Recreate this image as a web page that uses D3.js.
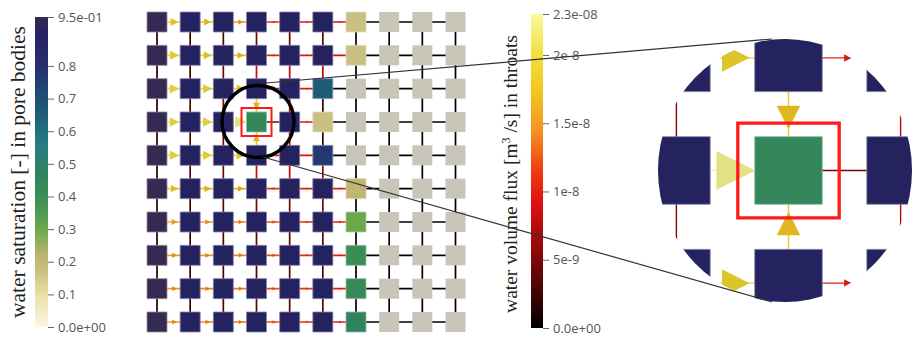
<!DOCTYPE html>
<html><head><meta charset="utf-8">
<script src="https://cdn.jsdelivr.net/npm/d3@7"></script>
<style>body{margin:0;background:#fff;} svg{display:block;}</style>
</head><body>
<svg id="c" width="914" height="337"></svg>
<script>
// ---------------- DATA ----------------
const satTicks = [0.95, 0.8, 0.7, 0.6, 0.5, 0.4, 0.3, 0.2, 0.1, 0];
const satTickLabels = ["9.5e-01","0.8","0.7","0.6","0.5","0.4","0.3","0.2","0.1","0.0e+00"];
const fluxTicks = [2.3e-8, 2e-8, 1.5e-8, 1e-8, 5e-9, 0];
const fluxTickLabels = ["2.3e-08","2e-8","1.5e-8","1e-8","5e-9","0.0e+00"];

// colour maps (colour stops)
const satStops  = [0, 0.1, 0.17, 0.22, 0.3, 0.4, 0.47, 0.55, 0.65, 0.75, 0.82, 0.9, 0.95];
const satColors = ["#fbf5e4","#e9e0a8","#c9c083","#bdb56c","#6aa84e","#3a8e55","#2f815e","#26807f","#1f5e78","#203f72","#262d6a","#252260","#352a52"];
const fluxStops  = [0, 0.46e-8, 0.92e-8, 1.15e-8, 1.43e-8, 1.72e-8, 2.0e-8, 2.3e-8];
const fluxColors = ["#000000","#760606","#e01010","#ee3c10","#f39020","#f2c420","#f0e038","#fafaa0"];

// water saturation in pore bodies, 10 rows x 10 columns (null = empty pore)
const saturation = [
  [0.95,0.9,0.9,0.9,0.9,0.9,0.17,null,null,null],
  [0.95,0.9,0.9,0.9,0.9,0.9,0.17,null,null,null],
  [0.95,0.9,0.9,0.9,0.9,0.66,null,null,null,null],
  [0.95,0.9,0.9,0.44,0.9,0.17,null,null,null,null],
  [0.95,0.9,0.9,0.9,0.9,0.77,null,null,null,null],
  [0.95,0.9,0.9,0.9,0.9,0.9,0.21,null,null,null],
  [0.95,0.9,0.9,0.9,0.9,0.9,0.3,null,null,null],
  [0.95,0.9,0.9,0.9,0.9,0.9,0.4,null,null,null],
  [0.95,0.9,0.9,0.9,0.9,0.9,0.42,null,null,null],
  [0.95,0.9,0.9,0.9,0.9,0.9,0.46,null,null,null]
];
// flux in horizontal throats (column i -> i+1), m3/s, negative = towards left
const horizontalFlux = [
  [1.9e-8,1.75e-8,1.5e-8,1.05e-8,0.95e-8,0.9e-8,0,0,0],
  [2.0e-8,1.85e-8,1.7e-8,1.0e-8,0.95e-8,0.9e-8,0,0,0],
  [2.05e-8,2.0e-8,1.9e-8,1.0e-8,0.95e-8,0,0,0,0],
  [2.05e-8,2.05e-8,2.25e-8,-0.45e-8,0.95e-8,0,0,0,0],
  [2.05e-8,2.0e-8,1.9e-8,1.0e-8,0.95e-8,0,0,0,0],
  [1.8e-8,1.7e-8,1.6e-8,1.1e-8,1.0e-8,1.0e-8,0,0,0],
  [1.6e-8,1.5e-8,1.4e-8,1.2e-8,1.05e-8,1.0e-8,0,0,0],
  [1.5e-8,1.45e-8,1.4e-8,1.2e-8,1.05e-8,1.0e-8,0,0,0],
  [1.45e-8,1.4e-8,1.35e-8,1.2e-8,1.1e-8,1.0e-8,0,0,0],
  [1.45e-8,1.4e-8,1.35e-8,1.2e-8,1.1e-8,1.0e-8,0,0,0]
];
// flux in vertical throats (row j -> j+1) per column, negative = upwards
const verticalFlux = [
  [0.12e-8,0.2e-8,0.3e-8,0.45e-8,0.4e-8,0.35e-8,0,0,0,0],
  [0.12e-8,0.25e-8,0.45e-8,0.8e-8,0.75e-8,0.7e-8,0,0,0,0],
  [0.12e-8,0.3e-8,0.5e-8,1.75e-8,0.7e-8,0.15e-8,0,0,0,0],
  [0.12e-8,-0.3e-8,-0.5e-8,-1.75e-8,-0.7e-8,-0.15e-8,0,0,0,0],
  [0.12e-8,0.3e-8,-0.45e-8,-0.8e-8,-0.75e-8,-0.6e-8,0,0,0,0],
  [0.12e-8,0.25e-8,0.35e-8,0.45e-8,0.45e-8,0.4e-8,0,0,0,0],
  [0.12e-8,0.2e-8,0.3e-8,0.35e-8,0.35e-8,0.3e-8,0,0,0,0],
  [0.12e-8,0.2e-8,0.3e-8,0.3e-8,0.3e-8,0.3e-8,0,0,0,0],
  [0.12e-8,0.2e-8,0.3e-8,0.3e-8,0.3e-8,0.3e-8,0,0,0,0]
];
const highlightPore = [3, 3]; // [column, row]
const satTitle = "water saturation [-] in pore bodies";

// ---------------- SCALES ----------------
const svg = d3.select("#c");
const satColor = d3.scaleLinear().domain(satStops).range(satColors).clamp(true);
const fluxColor = d3.scaleLinear().domain(fluxStops).range(fluxColors).clamp(true);
const arrowSize = d3.scalePow().exponent(2).domain([0, 2.3e-8]).range([0, 12]);
const xPos = d3.scaleLinear().domain([0, 9]).range([157, 455.5]);
const yPos = d3.scaleLinear().domain([0, 9]).range([22, 322]);
const satY = d3.scaleLinear().domain([0, 0.95]).range([327, 17]);
const fluxY = d3.scaleLinear().domain([0, 2.3e-8]).range([328, 14]);
const HALF = 10;

const defs = svg.append("defs");

// ---------------- COLOUR BARS ----------------
function colorBar(id, scale, yScale, x, w, ticks, labels) {
  const [d0, d1] = yScale.domain();
  const grad = defs.append("linearGradient").attr("id", id)
    .attr("x1", 0).attr("y1", 1).attr("x2", 0).attr("y2", 0);
  d3.range(0, 41).forEach(k => {
    const v = d0 + (d1 - d0) * k / 40;
    grad.append("stop").attr("offset", k / 40).attr("stop-color", scale(v));
  });
  svg.append("rect").attr("x", x).attr("y", yScale(d1)).attr("width", w)
    .attr("height", yScale(d0) - yScale(d1)).attr("fill", `url(#${id})`);
  const axis = d3.axisRight(yScale).tickValues(ticks)
    .tickFormat((d, i) => labels[i]).tickSize(6).tickPadding(4);
  const g = svg.append("g").attr("transform", `translate(${x + w},0)`).call(axis);
  g.select(".domain").remove();
  g.selectAll("line").attr("stroke", "#666");
  g.selectAll("text").attr("font-family", "Open Sans, Noto Sans, sans-serif")
    .attr("font-size", 13).attr("fill", "#555");
}
colorBar("gs", satColor, satY, 35, 13, satTicks, satTickLabels);
colorBar("gf", fluxColor, fluxY, 531, 12, fluxTicks, fluxTickLabels);

// titles
svg.append("text").attr("transform", "translate(25,172) rotate(-90)")
  .attr("text-anchor", "middle").attr("font-family", "Liberation Serif, serif")
  .attr("font-size", 21.5).attr("fill", "#222").text(satTitle);
const ft = svg.append("text").attr("transform", "translate(517,174) rotate(-90)")
  .attr("text-anchor", "middle").attr("font-family", "Liberation Serif, serif")
  .attr("font-size", 19.5).attr("fill", "#222");
ft.append("tspan").text("water volume flux [m");
ft.append("tspan").attr("dy", -7).attr("font-size", 12).text("3");
ft.append("tspan").attr("dy", 7).text(" /s] in throats");

// ---------------- NETWORK ----------------
function arrowPath(x, y, dx, dy, len) {
  const w = len / 2;
  const tx = x + dx * (len / 2 + 1), ty = y + dy * (len / 2 + 1);
  const bx = tx - dx * len, by = ty - dy * len;
  const px = -dy, py = dx;
  return `M${tx},${ty}L${bx + px * w},${by + py * w}L${bx - px * w},${by - py * w}Z`;
}

function drawNetwork(g, frameWidth, lineWidth) {
  const throats = [];
  horizontalFlux.forEach((row, j) => row.forEach((f, i) => {
    throats.push({x1: xPos(i), y1: yPos(j), x2: xPos(i + 1), y2: yPos(j), f,
      mx: (xPos(i) + xPos(i + 1)) / 2, my: yPos(j), dx: Math.sign(f), dy: 0});
  }));
  verticalFlux.forEach((row, j) => row.forEach((f, i) => {
    throats.push({x1: xPos(i), y1: yPos(j), x2: xPos(i), y2: yPos(j + 1), f,
      mx: xPos(i), my: (yPos(j) + yPos(j + 1)) / 2, dx: 0, dy: Math.sign(f)});
  }));
  g.append("g").selectAll("line").data(throats).join("line")
    .attr("x1", d => d.x1).attr("y1", d => d.y1).attr("x2", d => d.x2).attr("y2", d => d.y2)
    .attr("stroke", d => fluxColor(Math.abs(d.f))).attr("stroke-width", lineWidth)
    .attr("vector-effect", "non-scaling-stroke");
  const pores = [];
  saturation.forEach((row, j) => row.forEach((s, i) => pores.push({i, j, s})));
  g.append("g").selectAll("rect").data(pores).join("rect")
    .attr("x", d => xPos(d.i) - HALF).attr("y", d => yPos(d.j) - HALF)
    .attr("width", 2 * HALF).attr("height", 2 * HALF)
    .attr("fill", d => d.s == null ? "#c9c5b9" : satColor(d.s))
    .attr("stroke", d => d.s == null ? "none" : d3.interpolateRgb(satColor(d.s), "#fff")(0.45))
    .attr("stroke-width", 0.8).attr("vector-effect", "non-scaling-stroke");
  g.append("g").selectAll("path").data(throats.filter(d => arrowSize(Math.abs(d.f)) > 1.2)).join("path")
    .attr("d", d => arrowPath(d.mx, d.my, d.dx, d.dy, arrowSize(Math.abs(d.f))))
    .attr("fill", d => d3.color(fluxColor(Math.abs(d.f))).darker(0.25));
  const [hc, hr] = highlightPore;
  g.append("rect").attr("x", xPos(hc) - 15).attr("y", yPos(hr) - 14)
    .attr("width", 30).attr("height", 28).attr("fill", "none")
    .attr("stroke", "#ff1a1a").attr("stroke-width", frameWidth)
    .attr("vector-effect", "non-scaling-stroke");
}

drawNetwork(svg.append("g"), 2, 1.7);

// zoom circle on main network
const cx0 = xPos(highlightPore[0]), cy0 = yPos(highlightPore[1]);
svg.append("circle").attr("cx", cx0 + 1.5).attr("cy", cy0 - 0.5).attr("r", 36)
  .attr("fill", "none").attr("stroke", "#000").attr("stroke-width", 3.5);

// magnified view
const MAG = 3.38, magCx = 788.5, magCy = 170.5;
defs.append("clipPath").attr("id", "magclip").append("ellipse")
  .attr("cx", 785).attr("cy", 170.5).attr("rx", 127).attr("ry", 131.5);
const mag = svg.append("g").attr("clip-path", "url(#magclip)")
  .append("g").attr("transform", `translate(${magCx},${magCy}) scale(${MAG}) translate(${-cx0},${-cy0})`);
drawNetwork(mag, 3.3, 1.4);

// connector lines
svg.append("line").attr("x1", 266).attr("y1", 83).attr("x2", 772).attr("y2", 39)
  .attr("stroke", "#333").attr("stroke-width", 1.2);
svg.append("line").attr("x1", 263).attr("y1", 157).attr("x2", 772).attr("y2", 302)
  .attr("stroke", "#333").attr("stroke-width", 1.2);
</script>
</body></html>
